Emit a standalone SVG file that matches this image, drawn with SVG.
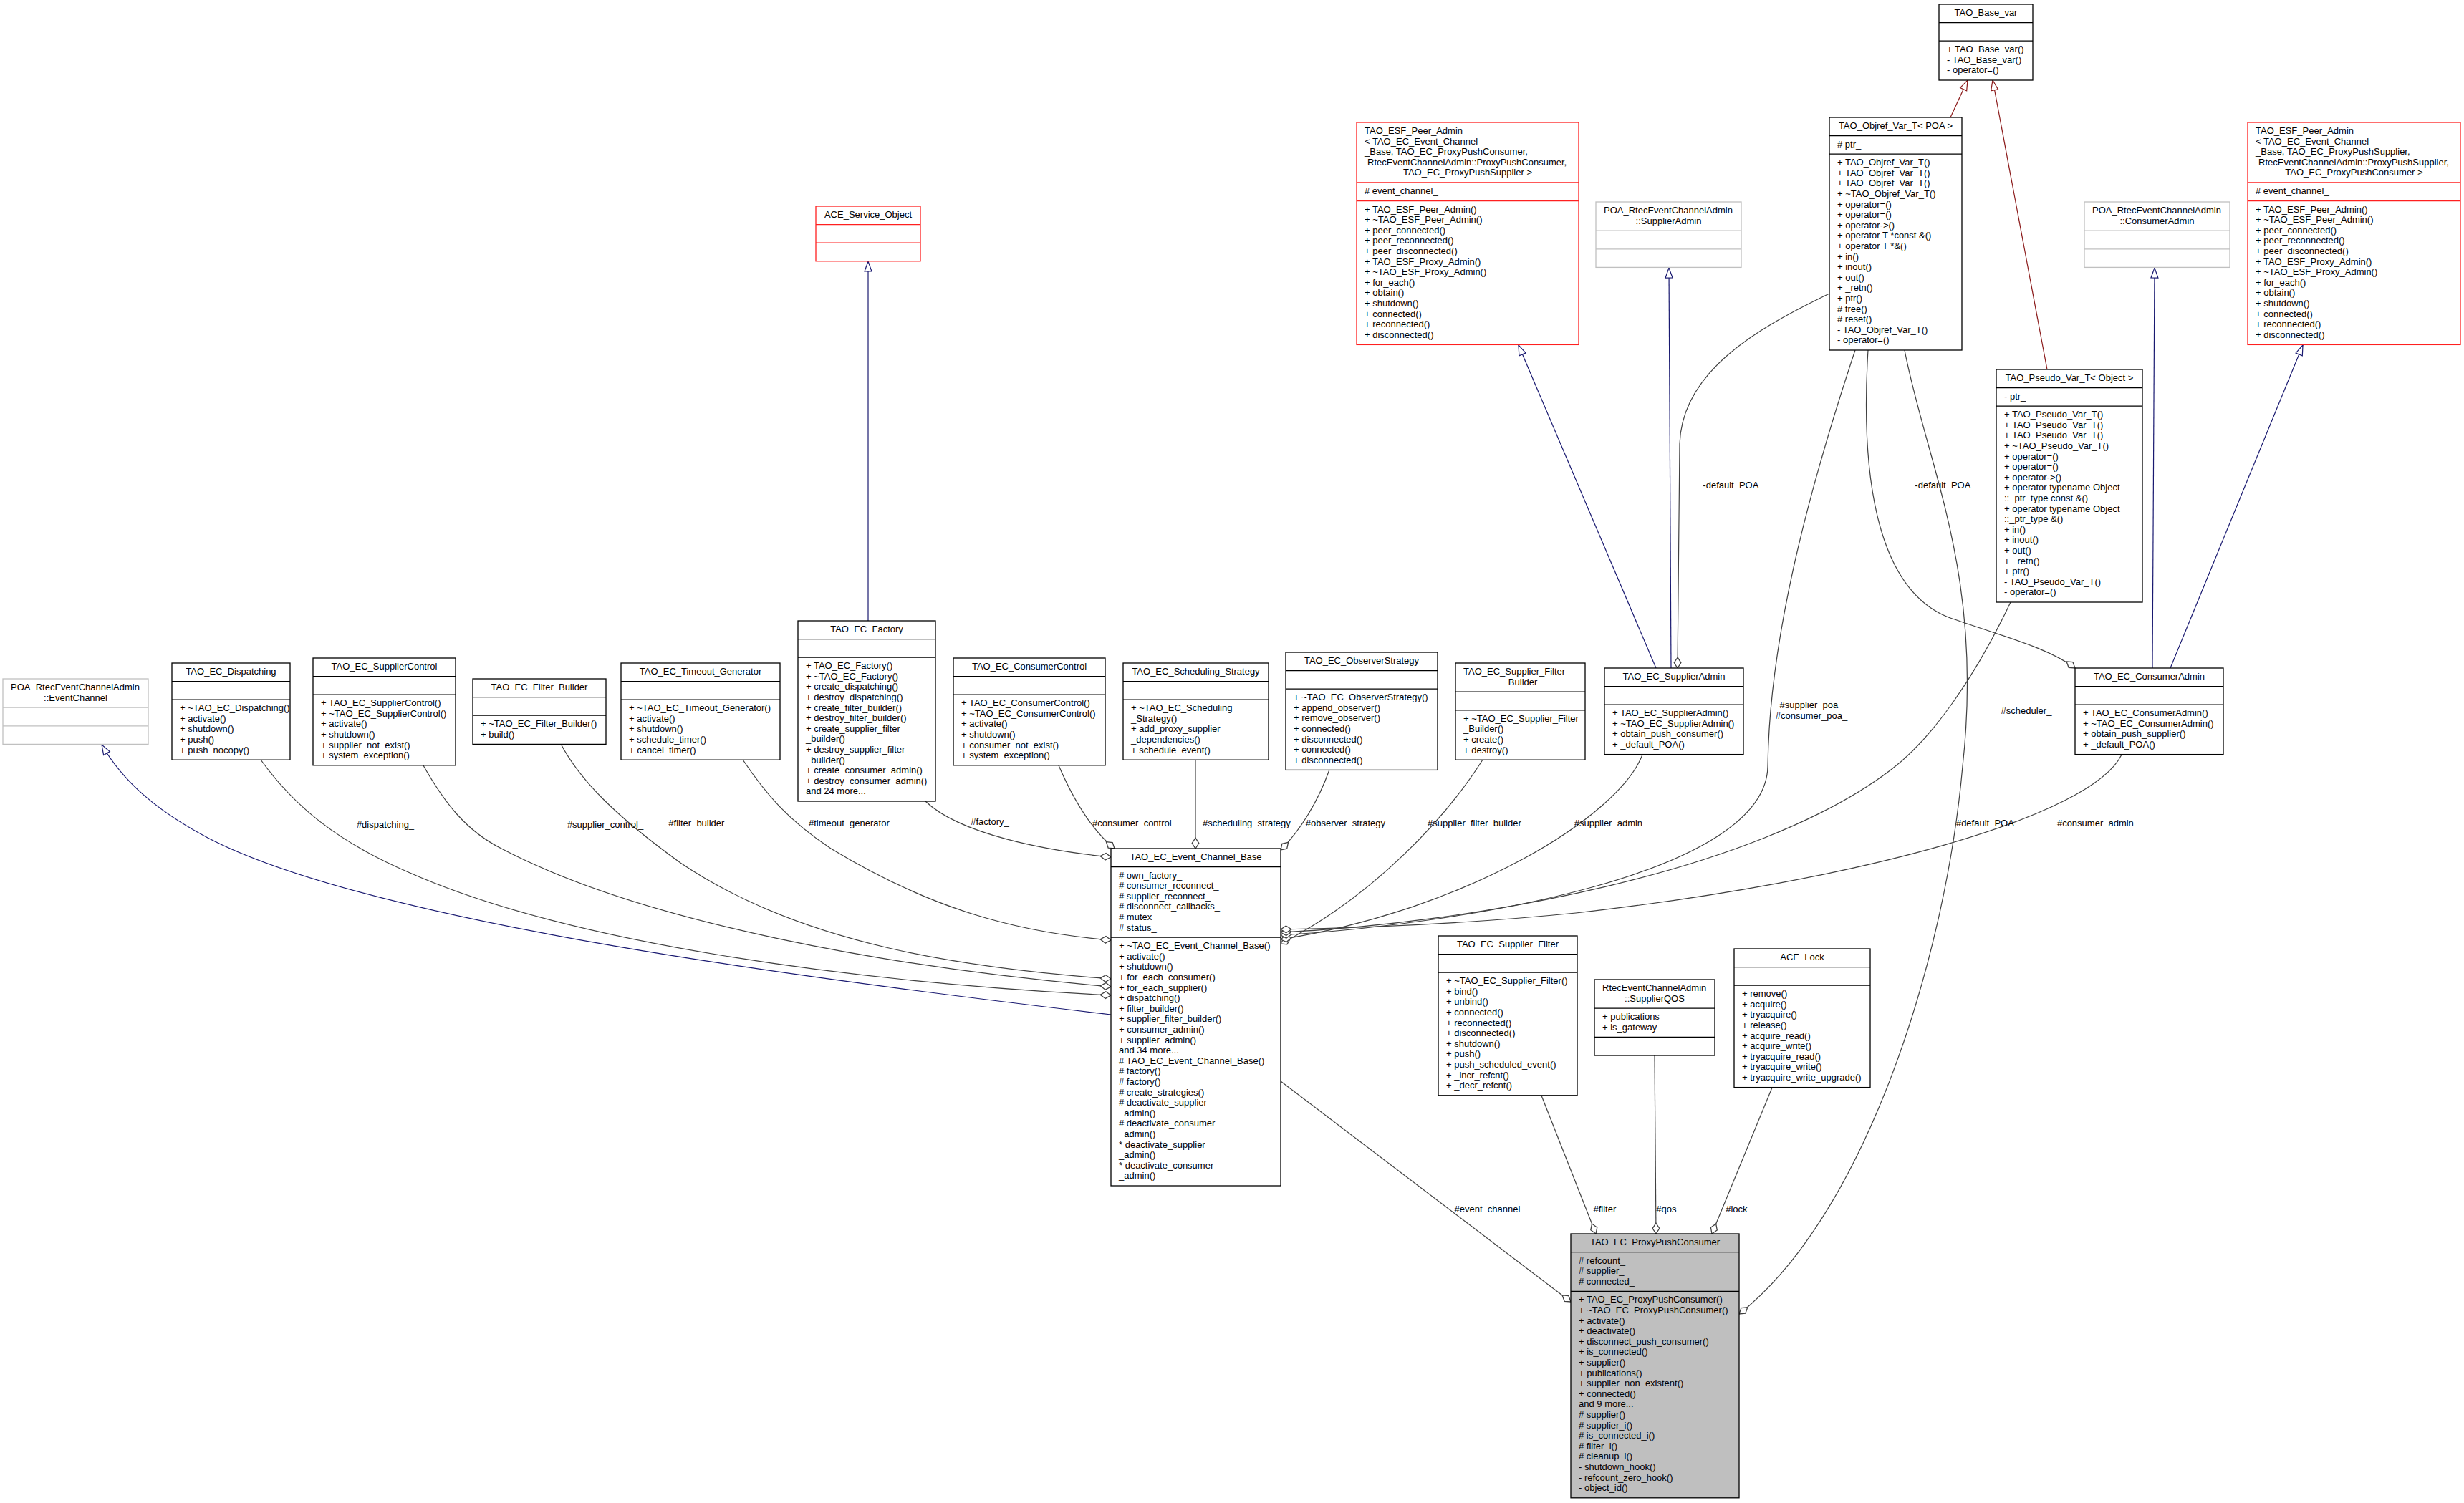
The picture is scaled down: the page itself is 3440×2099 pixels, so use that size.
<svg xmlns="http://www.w3.org/2000/svg" width="3440" height="2099" viewBox="0 0 3440 2099">
<style>
text{font-family:"Liberation Sans",Arial,sans-serif;font-size:13px;fill:#000}
.c{text-anchor:middle}
.n rect{fill:#fff;stroke:#000;stroke-width:1.3}
.n line{stroke:#000;stroke-width:1.3}
.r rect,.r line{stroke:#ff2020}
.g rect,.g line{stroke:#c0c0c0}
.pp rect{fill:#bfbfbf}
.u{fill:none;stroke:#404040;stroke-width:1.2;marker-end:url(#dia)}
.b{fill:none;stroke:#191970;stroke-width:1.2;marker-end:url(#tb)}
.p{fill:none;stroke:#8b1a1a;stroke-width:1.2;marker-end:url(#tr)}
</style>
<defs>
<marker id="dia" markerUnits="userSpaceOnUse" markerWidth="16" markerHeight="12" refX="14" refY="0" viewBox="0 -5 15 10" orient="auto" overflow="visible"><path d="M0,0 L7,-4.5 L14,0 L7,4.5 Z" fill="#fff" stroke="#404040" stroke-width="1.2"/></marker>
<marker id="tb" markerUnits="userSpaceOnUse" markerWidth="16" markerHeight="12" refX="14" refY="0" viewBox="0 -6 15 12" orient="auto" overflow="visible"><path d="M0,-5 L14,0 L0,5 Z" fill="#fff" stroke="#191970" stroke-width="1.2"/></marker>
<marker id="tr" markerUnits="userSpaceOnUse" markerWidth="16" markerHeight="12" refX="14" refY="0" viewBox="0 -6 15 12" orient="auto" overflow="visible"><path d="M0,-5 L14,0 L0,5 Z" fill="#fff" stroke="#8b1a1a" stroke-width="1.2"/></marker>
</defs>
<rect width="3440" height="2099" fill="#fff"/>

<g id="connectors">
<path class="p" d="M2723,164 L2747,112"/>
<path class="p" d="M2858,516 L2782,112"/>
<path class="b" d="M1212,867 L1212,365"/>
<path class="b" d="M2312,933 L2120,482"/>
<path class="b" d="M2333,933 L2330,374"/>
<path class="b" d="M3005,933 L3008,374"/>
<path class="b" d="M3030,933 L3215,482"/>
<path class="b" d="M1551,1417 C1150,1370 520,1290 290,1170 C220,1133 172,1092 142,1040"/>
<path class="u" d="M364,1061 C410,1125 470,1175 570,1218 C800,1320 1200,1372 1551,1390"/>
<path class="u" d="M591,1069 C620,1120 650,1160 700,1185 C900,1290 1250,1352 1551,1378"/>
<path class="u" d="M783,1039 C810,1090 860,1140 950,1205 C1120,1320 1350,1352 1551,1367"/>
<path class="u" d="M1037,1061 C1070,1110 1100,1145 1160,1185 C1300,1270 1420,1302 1551,1313"/>
<path class="u" d="M1292,1119 C1340,1165 1460,1188 1551,1197"/>
<path class="u" d="M1478,1069 C1500,1120 1525,1160 1556,1185"/>
<path class="u" d="M1669,1061 L1669,1185"/>
<path class="u" d="M1856,1075 C1840,1120 1815,1160 1788,1187"/>
<path class="u" d="M2070,1061 C2020,1140 1920,1250 1788,1318"/>
<path class="u" d="M2293,1054 C2260,1140 2050,1270 1788,1312"/>
<path class="u" d="M2590,489 C2520,700 2470,900 2468,1070 C2466,1220 2050,1290 1788,1306"/>
<path class="u" d="M2807,841 C2760,940 2700,1030 2640,1075 C2450,1220 2050,1290 1788,1302"/>
<path class="u" d="M2962,1054 C2920,1140 2600,1230 2200,1275 C2050,1290 1900,1296 1788,1298"/>
<path class="u" d="M2554,410 C2450,460 2348,520 2345,620 L2342,933"/>
<path class="u" d="M2608,489 C2598,650 2615,820 2720,862 C2800,890 2860,905 2897,933"/>
<path class="u" d="M2659,489 C2690,650 2770,800 2740,1070 C2715,1350 2600,1700 2428,1835"/>
<path class="u" d="M1788,1510 L2193,1818"/>
<path class="u" d="M2152,1530 L2228,1723"/>
<path class="u" d="M2310,1474 L2312,1723"/>
<path class="u" d="M2474,1519 L2390,1723"/>
<text class="c" x="538" y="1156">#dispatching_</text>
<text class="c" x="845" y="1156">#supplier_control_</text>
<text class="c" x="976" y="1154">#filter_builder_</text>
<text class="c" x="1189" y="1154">#timeout_generator_</text>
<text class="c" x="1382" y="1152">#factory_</text>
<text class="c" x="1584" y="1154">#consumer_control_</text>
<text class="c" x="1744" y="1154">#scheduling_strategy_</text>
<text class="c" x="1882" y="1154">#observer_strategy_</text>
<text class="c" x="2062" y="1154">#supplier_filter_builder_</text>
<text class="c" x="2249" y="1154">#supplier_admin_</text>
<text class="c" x="2529" y="989">#supplier_poa_</text>
<text class="c" x="2529" y="1004">#consumer_poa_</text>
<text class="c" x="2829" y="997">#scheduler_</text>
<text class="c" x="2929" y="1154">#consumer_admin_</text>
<text class="c" x="2420" y="682">-default_POA_</text>
<text class="c" x="2716" y="682">-default_POA_</text>
<text class="c" x="2775" y="1154">#default_POA_</text>
<text class="c" x="2080" y="1693">#event_channel_</text>
<text class="c" x="2244" y="1693">#filter_</text>
<text class="c" x="2330" y="1693">#qos_</text>
<text class="c" x="2428" y="1693">#lock_</text>
</g>

<g id="TAO_Base_var" class="n">
<rect x="2707" y="6" width="131" height="106"/>
<line x1="2707" y1="31.6" x2="2838" y2="31.6"/><line x1="2707" y1="57.2" x2="2838" y2="57.2"/>
<text class="c" x="2772.5" y="22">TAO_Base_var</text>
<text x="2718" y="73.2"><tspan x="2718">+ TAO_Base_var()</tspan><tspan x="2718" dy="14.6">- TAO_Base_var()</tspan><tspan x="2718" dy="14.6">- operator=()</tspan></text>
</g>

<g id="TAO_Objref_Var_T" class="n">
<rect x="2554" y="164" width="185" height="325"/>
<line x1="2554" y1="189.6" x2="2739" y2="189.6"/><line x1="2554" y1="215.2" x2="2739" y2="215.2"/>
<text class="c" x="2646.5" y="180">TAO_Objref_Var_T&lt; POA &gt;</text>
<text x="2565" y="205.6"># ptr_</text>
<text x="2565" y="231.2"><tspan x="2565">+ TAO_Objref_Var_T()</tspan><tspan x="2565" dy="14.6">+ TAO_Objref_Var_T()</tspan><tspan x="2565" dy="14.6">+ TAO_Objref_Var_T()</tspan><tspan x="2565" dy="14.6">+ ~TAO_Objref_Var_T()</tspan><tspan x="2565" dy="14.6">+ operator=()</tspan><tspan x="2565" dy="14.6">+ operator=()</tspan><tspan x="2565" dy="14.6">+ operator-&gt;()</tspan><tspan x="2565" dy="14.6">+ operator T *const &amp;()</tspan><tspan x="2565" dy="14.6">+ operator T *&amp;()</tspan><tspan x="2565" dy="14.6">+ in()</tspan><tspan x="2565" dy="14.6">+ inout()</tspan><tspan x="2565" dy="14.6">+ out()</tspan><tspan x="2565" dy="14.6">+ _retn()</tspan><tspan x="2565" dy="14.6">+ ptr()</tspan><tspan x="2565" dy="14.6"># free()</tspan><tspan x="2565" dy="14.6"># reset()</tspan><tspan x="2565" dy="14.6">- TAO_Objref_Var_T()</tspan><tspan x="2565" dy="14.6">- operator=()</tspan></text>
</g>

<g id="TAO_Pseudo_Var_T" class="n">
<rect x="2787" y="516" width="204" height="325"/>
<line x1="2787" y1="541.6" x2="2991" y2="541.6"/><line x1="2787" y1="567.2" x2="2991" y2="567.2"/>
<text class="c" x="2889" y="532">TAO_Pseudo_Var_T&lt; Object &gt;</text>
<text x="2798" y="557.6">- ptr_</text>
<text x="2798" y="583.2"><tspan x="2798">+ TAO_Pseudo_Var_T()</tspan><tspan x="2798" dy="14.6">+ TAO_Pseudo_Var_T()</tspan><tspan x="2798" dy="14.6">+ TAO_Pseudo_Var_T()</tspan><tspan x="2798" dy="14.6">+ ~TAO_Pseudo_Var_T()</tspan><tspan x="2798" dy="14.6">+ operator=()</tspan><tspan x="2798" dy="14.6">+ operator=()</tspan><tspan x="2798" dy="14.6">+ operator-&gt;()</tspan><tspan x="2798" dy="14.6">+ operator typename Object</tspan><tspan x="2798" dy="14.6">::_ptr_type const &amp;()</tspan><tspan x="2798" dy="14.6">+ operator typename Object</tspan><tspan x="2798" dy="14.6">::_ptr_type &amp;()</tspan><tspan x="2798" dy="14.6">+ in()</tspan><tspan x="2798" dy="14.6">+ inout()</tspan><tspan x="2798" dy="14.6">+ out()</tspan><tspan x="2798" dy="14.6">+ _retn()</tspan><tspan x="2798" dy="14.6">+ ptr()</tspan><tspan x="2798" dy="14.6">- TAO_Pseudo_Var_T()</tspan><tspan x="2798" dy="14.6">- operator=()</tspan></text>
</g>

<g id="TAO_ESF_Peer_Admin_Consumer" class="n r">
<rect x="1894" y="171" width="310" height="310.4"/>
<line x1="1894" y1="255" x2="2204" y2="255"/><line x1="1894" y1="280.6" x2="2204" y2="280.6"/>
<text x="1905" y="187"><tspan x="1905">TAO_ESF_Peer_Admin</tspan><tspan x="1905" dy="14.6">&lt; TAO_EC_Event_Channel</tspan><tspan x="1905" dy="14.6">_Base, TAO_EC_ProxyPushConsumer,</tspan><tspan x="1909" dy="14.6">RtecEventChannelAdmin::ProxyPushConsumer,</tspan></text>
<text class="c" x="2049" y="245.4">TAO_EC_ProxyPushSupplier &gt;</text>
<text x="1905" y="271"># event_channel_</text>
<text x="1905" y="296.6"><tspan x="1905">+ TAO_ESF_Peer_Admin()</tspan><tspan x="1905" dy="14.6">+ ~TAO_ESF_Peer_Admin()</tspan><tspan x="1905" dy="14.6">+ peer_connected()</tspan><tspan x="1905" dy="14.6">+ peer_reconnected()</tspan><tspan x="1905" dy="14.6">+ peer_disconnected()</tspan><tspan x="1905" dy="14.6">+ TAO_ESF_Proxy_Admin()</tspan><tspan x="1905" dy="14.6">+ ~TAO_ESF_Proxy_Admin()</tspan><tspan x="1905" dy="14.6">+ for_each()</tspan><tspan x="1905" dy="14.6">+ obtain()</tspan><tspan x="1905" dy="14.6">+ shutdown()</tspan><tspan x="1905" dy="14.6">+ connected()</tspan><tspan x="1905" dy="14.6">+ reconnected()</tspan><tspan x="1905" dy="14.6">+ disconnected()</tspan></text>
</g>

<g id="TAO_ESF_Peer_Admin_Supplier" class="n r">
<rect x="3138" y="171" width="297" height="310.4"/>
<line x1="3138" y1="255" x2="3435" y2="255"/><line x1="3138" y1="280.6" x2="3435" y2="280.6"/>
<text x="3149" y="187"><tspan x="3149">TAO_ESF_Peer_Admin</tspan><tspan x="3149" dy="14.6">&lt; TAO_EC_Event_Channel</tspan><tspan x="3149" dy="14.6">_Base, TAO_EC_ProxyPushSupplier,</tspan><tspan x="3153" dy="14.6">RtecEventChannelAdmin::ProxyPushSupplier,</tspan></text>
<text class="c" x="3286.5" y="245.4">TAO_EC_ProxyPushConsumer &gt;</text>
<text x="3149" y="271"># event_channel_</text>
<text x="3149" y="296.6"><tspan x="3149">+ TAO_ESF_Peer_Admin()</tspan><tspan x="3149" dy="14.6">+ ~TAO_ESF_Peer_Admin()</tspan><tspan x="3149" dy="14.6">+ peer_connected()</tspan><tspan x="3149" dy="14.6">+ peer_reconnected()</tspan><tspan x="3149" dy="14.6">+ peer_disconnected()</tspan><tspan x="3149" dy="14.6">+ TAO_ESF_Proxy_Admin()</tspan><tspan x="3149" dy="14.6">+ ~TAO_ESF_Proxy_Admin()</tspan><tspan x="3149" dy="14.6">+ for_each()</tspan><tspan x="3149" dy="14.6">+ obtain()</tspan><tspan x="3149" dy="14.6">+ shutdown()</tspan><tspan x="3149" dy="14.6">+ connected()</tspan><tspan x="3149" dy="14.6">+ reconnected()</tspan><tspan x="3149" dy="14.6">+ disconnected()</tspan></text>
</g>

<g id="ACE_Service_Object" class="n r">
<rect x="1139" y="288" width="146" height="76.8"/>
<line x1="1139" y1="313.6" x2="1285" y2="313.6"/><line x1="1139" y1="339.2" x2="1285" y2="339.2"/>
<text class="c" x="1212" y="304">ACE_Service_Object</text>
</g>

<g id="POA_SupplierAdmin" class="n g">
<rect x="2228" y="282" width="203" height="91.4"/>
<line x1="2228" y1="322.2" x2="2431" y2="322.2"/><line x1="2228" y1="347.8" x2="2431" y2="347.8"/>
<text x="2239" y="298">POA_RtecEventChannelAdmin</text>
<text class="c" x="2329.5" y="312.6">::SupplierAdmin</text>
</g>

<g id="POA_ConsumerAdmin" class="n g">
<rect x="2910" y="282" width="203" height="91.4"/>
<line x1="2910" y1="322.2" x2="3113" y2="322.2"/><line x1="2910" y1="347.8" x2="3113" y2="347.8"/>
<text x="2921" y="298">POA_RtecEventChannelAdmin</text>
<text class="c" x="3011.5" y="312.6">::ConsumerAdmin</text>
</g>

<g id="POA_EventChannel" class="n g">
<rect x="4" y="948" width="203" height="91.4"/>
<line x1="4" y1="988.2" x2="207" y2="988.2"/><line x1="4" y1="1013.8" x2="207" y2="1013.8"/>
<text x="15" y="964">POA_RtecEventChannelAdmin</text>
<text class="c" x="105.5" y="978.6">::EventChannel</text>
</g>

<g id="TAO_EC_Dispatching" class="n">
<rect x="240" y="926" width="165" height="135.2"/>
<line x1="240" y1="951.6" x2="405" y2="951.6"/><line x1="240" y1="977.2" x2="405" y2="977.2"/>
<text class="c" x="322.5" y="942">TAO_EC_Dispatching</text>
<text x="251" y="993.2"><tspan x="251">+ ~TAO_EC_Dispatching()</tspan><tspan x="251" dy="14.6">+ activate()</tspan><tspan x="251" dy="14.6">+ shutdown()</tspan><tspan x="251" dy="14.6">+ push()</tspan><tspan x="251" dy="14.6">+ push_nocopy()</tspan></text>
</g>

<g id="TAO_EC_SupplierControl" class="n">
<rect x="437" y="919" width="199" height="149.8"/>
<line x1="437" y1="944.6" x2="636" y2="944.6"/><line x1="437" y1="970.2" x2="636" y2="970.2"/>
<text class="c" x="536.5" y="935">TAO_EC_SupplierControl</text>
<text x="448" y="986.2"><tspan x="448">+ TAO_EC_SupplierControl()</tspan><tspan x="448" dy="14.6">+ ~TAO_EC_SupplierControl()</tspan><tspan x="448" dy="14.6">+ activate()</tspan><tspan x="448" dy="14.6">+ shutdown()</tspan><tspan x="448" dy="14.6">+ supplier_not_exist()</tspan><tspan x="448" dy="14.6">+ system_exception()</tspan></text>
</g>

<g id="TAO_EC_Filter_Builder" class="n">
<rect x="660" y="948" width="186" height="91.4"/>
<line x1="660" y1="973.6" x2="846" y2="973.6"/><line x1="660" y1="999.2" x2="846" y2="999.2"/>
<text class="c" x="753" y="964">TAO_EC_Filter_Builder</text>
<text x="671" y="1015.2"><tspan x="671">+ ~TAO_EC_Filter_Builder()</tspan><tspan x="671" dy="14.6">+ build()</tspan></text>
</g>

<g id="TAO_EC_Timeout_Generator" class="n">
<rect x="867" y="926" width="222" height="135.2"/>
<line x1="867" y1="951.6" x2="1089" y2="951.6"/><line x1="867" y1="977.2" x2="1089" y2="977.2"/>
<text class="c" x="978" y="942">TAO_EC_Timeout_Generator</text>
<text x="878" y="993.2"><tspan x="878">+ ~TAO_EC_Timeout_Generator()</tspan><tspan x="878" dy="14.6">+ activate()</tspan><tspan x="878" dy="14.6">+ shutdown()</tspan><tspan x="878" dy="14.6">+ schedule_timer()</tspan><tspan x="878" dy="14.6">+ cancel_timer()</tspan></text>
</g>

<g id="TAO_EC_Factory" class="n">
<rect x="1114" y="867" width="192" height="252"/>
<line x1="1114" y1="892.6" x2="1306" y2="892.6"/><line x1="1114" y1="918.2" x2="1306" y2="918.2"/>
<text class="c" x="1210" y="883">TAO_EC_Factory</text>
<text x="1125" y="934.2"><tspan x="1125">+ TAO_EC_Factory()</tspan><tspan x="1125" dy="14.6">+ ~TAO_EC_Factory()</tspan><tspan x="1125" dy="14.6">+ create_dispatching()</tspan><tspan x="1125" dy="14.6">+ destroy_dispatching()</tspan><tspan x="1125" dy="14.6">+ create_filter_builder()</tspan><tspan x="1125" dy="14.6">+ destroy_filter_builder()</tspan><tspan x="1125" dy="14.6">+ create_supplier_filter</tspan><tspan x="1125" dy="14.6">_builder()</tspan><tspan x="1125" dy="14.6">+ destroy_supplier_filter</tspan><tspan x="1125" dy="14.6">_builder()</tspan><tspan x="1125" dy="14.6">+ create_consumer_admin()</tspan><tspan x="1125" dy="14.6">+ destroy_consumer_admin()</tspan><tspan x="1125" dy="14.6">and 24 more...</tspan></text>
</g>

<g id="TAO_EC_ConsumerControl" class="n">
<rect x="1331" y="919" width="212" height="149.8"/>
<line x1="1331" y1="944.6" x2="1543" y2="944.6"/><line x1="1331" y1="970.2" x2="1543" y2="970.2"/>
<text class="c" x="1437" y="935">TAO_EC_ConsumerControl</text>
<text x="1342" y="986.2"><tspan x="1342">+ TAO_EC_ConsumerControl()</tspan><tspan x="1342" dy="14.6">+ ~TAO_EC_ConsumerControl()</tspan><tspan x="1342" dy="14.6">+ activate()</tspan><tspan x="1342" dy="14.6">+ shutdown()</tspan><tspan x="1342" dy="14.6">+ consumer_not_exist()</tspan><tspan x="1342" dy="14.6">+ system_exception()</tspan></text>
</g>

<g id="TAO_EC_Scheduling_Strategy" class="n">
<rect x="1568" y="926" width="203" height="135.2"/>
<line x1="1568" y1="951.6" x2="1771" y2="951.6"/><line x1="1568" y1="977.2" x2="1771" y2="977.2"/>
<text class="c" x="1669.5" y="942">TAO_EC_Scheduling_Strategy</text>
<text x="1579" y="993.2"><tspan x="1579">+ ~TAO_EC_Scheduling</tspan><tspan x="1579" dy="14.6">_Strategy()</tspan><tspan x="1579" dy="14.6">+ add_proxy_supplier</tspan><tspan x="1579" dy="14.6">_dependencies()</tspan><tspan x="1579" dy="14.6">+ schedule_event()</tspan></text>
</g>

<g id="TAO_EC_ObserverStrategy" class="n">
<rect x="1795" y="911" width="212" height="164.4"/>
<line x1="1795" y1="936.6" x2="2007" y2="936.6"/><line x1="1795" y1="962.2" x2="2007" y2="962.2"/>
<text class="c" x="1901" y="927">TAO_EC_ObserverStrategy</text>
<text x="1806" y="978.2"><tspan x="1806">+ ~TAO_EC_ObserverStrategy()</tspan><tspan x="1806" dy="14.6">+ append_observer()</tspan><tspan x="1806" dy="14.6">+ remove_observer()</tspan><tspan x="1806" dy="14.6">+ connected()</tspan><tspan x="1806" dy="14.6">+ disconnected()</tspan><tspan x="1806" dy="14.6">+ connected()</tspan><tspan x="1806" dy="14.6">+ disconnected()</tspan></text>
</g>

<g id="TAO_EC_Supplier_Filter_Builder" class="n">
<rect x="2032" y="926" width="181" height="135.2"/>
<line x1="2032" y1="966.2" x2="2213" y2="966.2"/><line x1="2032" y1="991.8" x2="2213" y2="991.8"/>
<text x="2043" y="942">TAO_EC_Supplier_Filter</text>
<text class="c" x="2122.5" y="956.6">_Builder</text>
<text x="2043" y="1007.8"><tspan x="2043">+ ~TAO_EC_Supplier_Filter</tspan><tspan x="2043" dy="14.6">_Builder()</tspan><tspan x="2043" dy="14.6">+ create()</tspan><tspan x="2043" dy="14.6">+ destroy()</tspan></text>
</g>

<g id="TAO_EC_SupplierAdmin" class="n">
<rect x="2240" y="933" width="194" height="120.6"/>
<line x1="2240" y1="958.6" x2="2434" y2="958.6"/><line x1="2240" y1="984.2" x2="2434" y2="984.2"/>
<text class="c" x="2337" y="949">TAO_EC_SupplierAdmin</text>
<text x="2251" y="1000.2"><tspan x="2251">+ TAO_EC_SupplierAdmin()</tspan><tspan x="2251" dy="14.6">+ ~TAO_EC_SupplierAdmin()</tspan><tspan x="2251" dy="14.6">+ obtain_push_consumer()</tspan><tspan x="2251" dy="14.6">+ _default_POA()</tspan></text>
</g>

<g id="TAO_EC_ConsumerAdmin" class="n">
<rect x="2897" y="933" width="207" height="120.6"/>
<line x1="2897" y1="958.6" x2="3104" y2="958.6"/><line x1="2897" y1="984.2" x2="3104" y2="984.2"/>
<text class="c" x="3000.5" y="949">TAO_EC_ConsumerAdmin</text>
<text x="2908" y="1000.2"><tspan x="2908">+ TAO_EC_ConsumerAdmin()</tspan><tspan x="2908" dy="14.6">+ ~TAO_EC_ConsumerAdmin()</tspan><tspan x="2908" dy="14.6">+ obtain_push_supplier()</tspan><tspan x="2908" dy="14.6">+ _default_POA()</tspan></text>
</g>

<g id="TAO_EC_Event_Channel_Base" class="n">
<rect x="1551" y="1185" width="237" height="471"/>
<line x1="1551" y1="1210.6" x2="1788" y2="1210.6"/><line x1="1551" y1="1309.2" x2="1788" y2="1309.2"/>
<text class="c" x="1669.5" y="1201">TAO_EC_Event_Channel_Base</text>
<text x="1562" y="1226.6"><tspan x="1562"># own_factory_</tspan><tspan x="1562" dy="14.6"># consumer_reconnect_</tspan><tspan x="1562" dy="14.6"># supplier_reconnect_</tspan><tspan x="1562" dy="14.6"># disconnect_callbacks_</tspan><tspan x="1562" dy="14.6"># mutex_</tspan><tspan x="1562" dy="14.6"># status_</tspan></text>
<text x="1562" y="1325.2"><tspan x="1562">+ ~TAO_EC_Event_Channel_Base()</tspan><tspan x="1562" dy="14.6">+ activate()</tspan><tspan x="1562" dy="14.6">+ shutdown()</tspan><tspan x="1562" dy="14.6">+ for_each_consumer()</tspan><tspan x="1562" dy="14.6">+ for_each_supplier()</tspan><tspan x="1562" dy="14.6">+ dispatching()</tspan><tspan x="1562" dy="14.6">+ filter_builder()</tspan><tspan x="1562" dy="14.6">+ supplier_filter_builder()</tspan><tspan x="1562" dy="14.6">+ consumer_admin()</tspan><tspan x="1562" dy="14.6">+ supplier_admin()</tspan><tspan x="1562" dy="14.6">and 34 more...</tspan><tspan x="1562" dy="14.6"># TAO_EC_Event_Channel_Base()</tspan><tspan x="1562" dy="14.6"># factory()</tspan><tspan x="1562" dy="14.6"># factory()</tspan><tspan x="1562" dy="14.6"># create_strategies()</tspan><tspan x="1562" dy="14.6"># deactivate_supplier</tspan><tspan x="1562" dy="14.6">_admin()</tspan><tspan x="1562" dy="14.6"># deactivate_consumer</tspan><tspan x="1562" dy="14.6">_admin()</tspan><tspan x="1562" dy="14.6">* deactivate_supplier</tspan><tspan x="1562" dy="14.6">_admin()</tspan><tspan x="1562" dy="14.6">* deactivate_consumer</tspan><tspan x="1562" dy="14.6">_admin()</tspan></text>
</g>

<g id="TAO_EC_Supplier_Filter" class="n">
<rect x="2008" y="1307" width="194" height="222.8"/>
<line x1="2008" y1="1332.6" x2="2202" y2="1332.6"/><line x1="2008" y1="1358.2" x2="2202" y2="1358.2"/>
<text class="c" x="2105" y="1323">TAO_EC_Supplier_Filter</text>
<text x="2019" y="1374.2"><tspan x="2019">+ ~TAO_EC_Supplier_Filter()</tspan><tspan x="2019" dy="14.6">+ bind()</tspan><tspan x="2019" dy="14.6">+ unbind()</tspan><tspan x="2019" dy="14.6">+ connected()</tspan><tspan x="2019" dy="14.6">+ reconnected()</tspan><tspan x="2019" dy="14.6">+ disconnected()</tspan><tspan x="2019" dy="14.6">+ shutdown()</tspan><tspan x="2019" dy="14.6">+ push()</tspan><tspan x="2019" dy="14.6">+ push_scheduled_event()</tspan><tspan x="2019" dy="14.6">+ _incr_refcnt()</tspan><tspan x="2019" dy="14.6">+ _decr_refcnt()</tspan></text>
</g>

<g id="SupplierQOS" class="n">
<rect x="2226" y="1368" width="168" height="106"/>
<line x1="2226" y1="1408.2" x2="2394" y2="1408.2"/><line x1="2226" y1="1448.4" x2="2394" y2="1448.4"/>
<text x="2237" y="1384">RtecEventChannelAdmin</text>
<text class="c" x="2310" y="1398.6">::SupplierQOS</text>
<text x="2237" y="1424.2"><tspan x="2237">+ publications</tspan><tspan x="2237" dy="14.6">+ is_gateway</tspan></text>
</g>

<g id="ACE_Lock" class="n">
<rect x="2421" y="1325" width="190" height="193.6"/>
<line x1="2421" y1="1350.6" x2="2611" y2="1350.6"/><line x1="2421" y1="1376.2" x2="2611" y2="1376.2"/>
<text class="c" x="2516" y="1341">ACE_Lock</text>
<text x="2432" y="1392.2"><tspan x="2432">+ remove()</tspan><tspan x="2432" dy="14.6">+ acquire()</tspan><tspan x="2432" dy="14.6">+ tryacquire()</tspan><tspan x="2432" dy="14.6">+ release()</tspan><tspan x="2432" dy="14.6">+ acquire_read()</tspan><tspan x="2432" dy="14.6">+ acquire_write()</tspan><tspan x="2432" dy="14.6">+ tryacquire_read()</tspan><tspan x="2432" dy="14.6">+ tryacquire_write()</tspan><tspan x="2432" dy="14.6">+ tryacquire_write_upgrade()</tspan></text>
</g>

<g id="TAO_EC_ProxyPushConsumer" class="n pp">
<rect x="2193" y="1723" width="235" height="368.8"/>
<line x1="2193" y1="1748.6" x2="2428" y2="1748.6"/><line x1="2193" y1="1803.4" x2="2428" y2="1803.4"/>
<text class="c" x="2310.5" y="1739">TAO_EC_ProxyPushConsumer</text>
<text x="2204" y="1764.6"><tspan x="2204"># refcount_</tspan><tspan x="2204" dy="14.6"># supplier_</tspan><tspan x="2204" dy="14.6"># connected_</tspan></text>
<text x="2204" y="1819.4"><tspan x="2204">+ TAO_EC_ProxyPushConsumer()</tspan><tspan x="2204" dy="14.6">+ ~TAO_EC_ProxyPushConsumer()</tspan><tspan x="2204" dy="14.6">+ activate()</tspan><tspan x="2204" dy="14.6">+ deactivate()</tspan><tspan x="2204" dy="14.6">+ disconnect_push_consumer()</tspan><tspan x="2204" dy="14.6">+ is_connected()</tspan><tspan x="2204" dy="14.6">+ supplier()</tspan><tspan x="2204" dy="14.6">+ publications()</tspan><tspan x="2204" dy="14.6">+ supplier_non_existent()</tspan><tspan x="2204" dy="14.6">+ connected()</tspan><tspan x="2204" dy="14.6">and 9 more...</tspan><tspan x="2204" dy="14.6"># supplier()</tspan><tspan x="2204" dy="14.6"># supplier_i()</tspan><tspan x="2204" dy="14.6"># is_connected_i()</tspan><tspan x="2204" dy="14.6"># filter_i()</tspan><tspan x="2204" dy="14.6"># cleanup_i()</tspan><tspan x="2204" dy="14.6">- shutdown_hook()</tspan><tspan x="2204" dy="14.6">- refcount_zero_hook()</tspan><tspan x="2204" dy="14.6">- object_id()</tspan></text>
</g>
</svg>
